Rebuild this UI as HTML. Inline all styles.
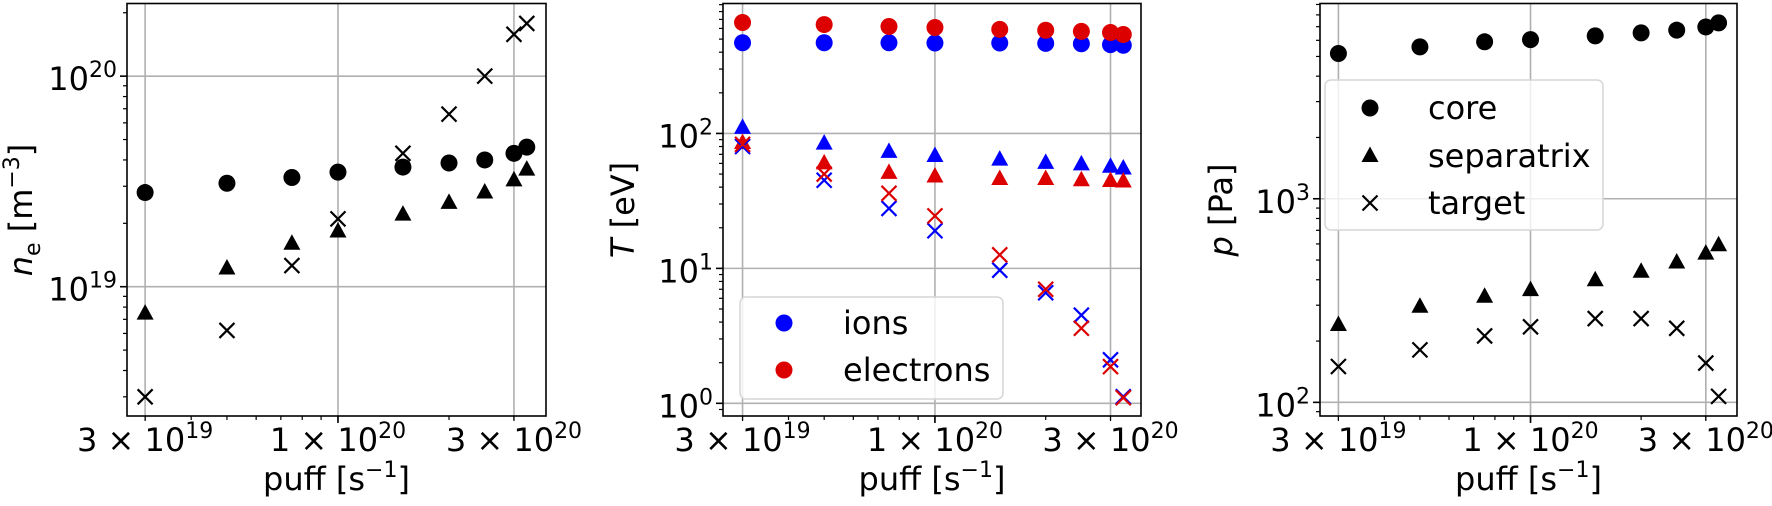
<!DOCTYPE html>
<html><head><meta charset="utf-8"><style>
body{margin:0;background:#fff}
svg{display:block}
text{font-family:"DejaVu Sans","Liberation Sans",sans-serif;fill:#000}
</style></head><body>
<svg id="fig" width="1772" height="506" viewBox="0 0 1772 506" xmlns="http://www.w3.org/2000/svg"></svg>
<script>
const puff = [3e19, 5e19, 7.5e19, 1e20, 1.5e20, 2e20, 2.5e20, 3e20, 3.25e20];
const xTickVals = [3e19, 1e20, 3e20];
const xTickMant = ['3', '1', '3'];
const xTickExp = ['19', '20', '20'];
// panel 1: density
const neCore = [2.8e19, 3.1e19, 3.3e19, 3.5e19, 3.7e19, 3.87e19, 4.0e19, 4.3e19, 4.6e19];
const neSep = [7.45e18, 1.22e19, 1.6e19, 1.83e19, 2.2e19, 2.5e19, 2.8e19, 3.2e19, 3.6e19];
const neTarget = [3.0e18, 6.2e18, 1.26e19, 2.1e19, 4.3e19, 6.6e19, 1.0e20, 1.58e20, 1.78e20];
// panel 2: temperature
const tiCore = [470, 470, 470, 468, 468, 465, 462, 455, 450];
const teCore = [664, 641, 620, 610, 591, 582, 571, 560, 541];
const tiSep = [110, 84, 73, 68, 64, 60.5, 59, 56.6, 55];
const teSep = [85, 60, 51, 48, 46, 46, 45, 44.4, 44];
const tiTarget = [80, 45, 27.8, 19, 9.7, 6.6, 4.5, 2.1, 1.12];
const teTarget = [83, 50, 36, 24.5, 12.6, 7.0, 3.6, 1.87, 1.1];
// panel 3: pressure
const pCore = [5170, 5570, 5900, 6050, 6310, 6530, 6730, 6980, 7310];
const pSep = [240, 295, 330, 356, 398, 438, 486, 538, 591];
const pTarget = [150, 181, 212, 235, 258, 258, 231, 156, 107];

const NS = 'http://www.w3.org/2000/svg';
const svg = document.getElementById('fig');
function mk(tag, attrs, parent) {
  const e = document.createElementNS(NS, tag);
  for (const k in attrs) e.setAttribute(k, attrs[k]);
  (parent || svg).appendChild(e);
  return e;
}
const BLUE = '#0000ff', RED = '#dd0000', BLACK = '#000';

function panel(cfg) {
  const g = mk('g', {});
  
  
  const L = cfg.l, R = cfg.r, T = 3.5, B = 416;
  const xs = v => L + (Math.log10(v) - cfg.xmin) / (cfg.xmax - cfg.xmin) * (R - L);
  const ys = v => B - (Math.log10(v) - cfg.ymin) / (cfg.ymax - cfg.ymin) * (B - T);
  // grid
  xTickVals.forEach(v => {
    const ln = mk('line', {x1: xs(v), x2: xs(v), y1: T, y2: B, stroke: '#b0b0b0', 'stroke-width': 1.6}, g);
    
    
  });
  cfg.yMajor.forEach(e => {
    const ln = mk('line', {x1: L, x2: R, y1: ys(Math.pow(10, e)), y2: ys(Math.pow(10, e)), stroke: '#b0b0b0', 'stroke-width': 1.6}, g);
    
    
  });
  // x minor ticks
  for (let d = 19; d <= 20; d++) for (let m = 1; m <= 9; m++) {
    const v = m * Math.pow(10, d);
    if (Math.log10(v) < cfg.xmin || Math.log10(v) > cfg.xmax) continue;
    const major = (m === 1);
    const t = mk('line', {x1: xs(v), x2: xs(v), y1: B, y2: B + (major ? 7 : 4), stroke: '#000', 'stroke-width': major ? 1.6 : 1.2}, g);
    
    
  }
  xTickVals.forEach((v, i) => {
    if (!xTickExp[i]) return;
    const t = mk('line', {x1: xs(v), x2: xs(v), y1: B, y2: B + 5, stroke: '#000', 'stroke-width': 1.2}, g);
    const tx = mk('text', {x: xs(v), y: 451, 'font-size': 32, 'text-anchor': 'middle'}, g);
    
    
    tx.textContent = xTickMant[i] + ' × 10';
    const sp = mk('tspan', {dy: -13, 'font-size': 22}, tx);
    sp.textContent = xTickExp[i];
  });
  // y ticks
  for (let d = Math.floor(cfg.ymin); d <= Math.ceil(cfg.ymax); d++) for (let m = 1; m <= 9; m++) {
    const lv = Math.log10(m * Math.pow(10, d));
    if (lv < cfg.ymin || lv > cfg.ymax) continue;
    const major = (m === 1);
    const y = ys(m * Math.pow(10, d));
    const t = mk('line', {x1: L - (major ? 7 : 4), x2: L, y1: y, y2: y, stroke: '#000', 'stroke-width': major ? 1.6 : 1.2}, g);
    
    
  }
  cfg.yMajor.forEach(e => {
    const y = ys(Math.pow(10, e));
    const tx = mk('text', {x: L - 10, y: y + 14, 'font-size': 32, 'text-anchor': 'end'}, g);
    
    
    tx.textContent = '10';
    const sp = mk('tspan', {dy: -13, 'font-size': 22}, tx);
    sp.textContent = String(e);
  });
  // frame
  const fr = mk('rect', {x: L, y: T, width: R - L, height: B - T, fill: 'none', stroke: '#000', 'stroke-width': 1.6}, g);
  
  
  // labels
  const xl = mk('text', {x: (L + R) / 2, y: 490, 'font-size': 32, 'text-anchor': 'middle'}, g);
  
  
  xl.textContent = 'puff [s';
  const s1 = mk('tspan', {dy: -13, 'font-size': 22}, xl); s1.textContent = '−1';
  const s2 = mk('tspan', {dy: 13}, xl); s2.textContent = ']';
  const yl = mk('text', {x: 0, y: 0, 'font-size': 32, 'text-anchor': 'middle', transform: `translate(${cfg.ylx},210) rotate(-90)`}, g);
  
  
  cfg.ylabel(yl);
  // data
  cfg.series.forEach(s => {
    s.vals.forEach((v, i) => {
      drawMarker(g, s.m, xs(puff[i]), ys(v), s.c, s.name);
    });
  });
  return g;
}
function drawMarker(g, m, x, y, c, name) {
  let e;
  if (m === 'o') e = mk('circle', {cx: x, cy: y, r: 8.5, fill: c}, g);
  else if (m === '^') e = mk('polygon', {points: `${x},${y - 9.5} ${x - 8.5},${y + 6} ${x + 8.5},${y + 6}`, fill: c}, g);
  else e = mk('path', {d: `M${x - 7.5},${y - 7.5}L${x + 7.5},${y + 7.5}M${x - 7.5},${y + 7.5}L${x + 7.5},${y - 7.5}`, stroke: c, 'stroke-width': 2.2, fill: 'none'}, g);
  
  
  return e;
}
function simpleLabel(main, italic) {
  return el => {
    const a = mk('tspan', {'font-style': 'italic'}, el); a.textContent = italic;
    const b = mk('tspan', {}, el); b.textContent = main;
  };
}
panel({name: 'density-panel', l: 127, r: 546, xmin: 19.428, xmax: 20.564, ymin: 18.386, ymax: 20.345, yMajor: [19, 20], ylx: 32,
  ylabel: el => {
    const a = mk('tspan', {'font-style': 'italic'}, el); a.textContent = 'n';
    const b = mk('tspan', {dy: 8, 'font-size': 22}, el); b.textContent = 'e';
    const c = mk('tspan', {dy: -8}, el); c.textContent = ' [m';
    const d = mk('tspan', {dy: -13, 'font-size': 22}, el); d.textContent = '−3';
    const e = mk('tspan', {dy: 13}, el); e.textContent = ']';
  },
  series: [
    {vals: neCore, m: 'o', c: BLACK, name: 'core-density-point'},
    {vals: neSep, m: '^', c: BLACK, name: 'separatrix-density-point'},
    {vals: neTarget, m: 'x', c: BLACK, name: 'target-density-point'}]});
panel({name: 'temperature-panel', l: 723, r: 1141, xmin: 19.424, xmax: 20.56, ymin: -0.094, ymax: 2.963, yMajor: [0, 1, 2], ylx: 634,
  ylabel: simpleLabel(' [eV]', 'T'),
  series: [
    {vals: tiCore, m: 'o', c: BLUE, name: 'ion-core-temp-point'},
    {vals: teCore, m: 'o', c: RED, name: 'electron-core-temp-point'},
    {vals: tiSep, m: '^', c: BLUE, name: 'ion-separatrix-temp-point'},
    {vals: teSep, m: '^', c: RED, name: 'electron-separatrix-temp-point'},
    {vals: tiTarget, m: 'x', c: BLUE, name: 'ion-target-temp-point'},
    {vals: teTarget, m: 'x', c: RED, name: 'electron-target-temp-point'}]});
panel({name: 'pressure-panel', l: 1320, r: 1737, xmin: 19.427, xmax: 20.562, ymin: 1.933, ymax: 3.959, yMajor: [2, 3], ylx: 1232,
  ylabel: simpleLabel(' [Pa]', 'p'),
  series: [
    {vals: pCore, m: 'o', c: BLACK, name: 'core-pressure-point'},
    {vals: pSep, m: '^', c: BLACK, name: 'separatrix-pressure-point'},
    {vals: pTarget, m: 'x', c: BLACK, name: 'target-pressure-point'}]});

function legend(name, x, y, w, h, entries, mx, tx) {
  const g = mk('g', {});
  
  
  const r = mk('rect', {x: x, y: y, width: w, height: h, rx: 6, fill: 'rgba(255,255,255,0.8)', stroke: '#d6d6d6', 'stroke-width': 1.5}, g);
  
  
  entries.forEach(en => {
    drawMarker(g, en.m, mx, en.y, en.c, 'legend-marker');
    const t = mk('text', {x: tx, y: en.y + 11, 'font-size': 32}, g);
    
    
    t.textContent = en.label;
  });
}
legend('temperature-legend', 740, 297, 263, 102, [
  {m: 'o', c: BLUE, y: 323, label: 'ions'},
  {m: 'o', c: RED, y: 370, label: 'electrons'}], 784, 843);
legend('pressure-legend', 1325, 80, 278, 150, [
  {m: 'o', c: BLACK, y: 108, label: 'core'},
  {m: '^', c: BLACK, y: 156, label: 'separatrix'},
  {m: 'x', c: BLACK, y: 203, label: 'target'}], 1370, 1428);
</script>
</body></html>
